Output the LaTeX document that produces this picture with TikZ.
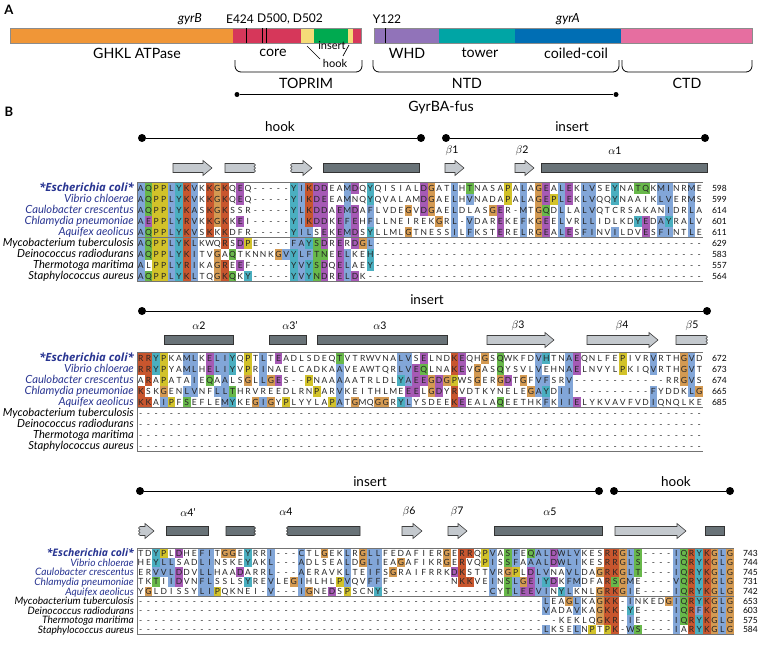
\documentclass[tikz,border=0pt]{standalone}
\usepackage{fontspec}
\setmainfont{Lato}
\newfontfamily\ecfont{Open Sans}
\definecolor{rcb}{RGB}{130,166,216}
\definecolor{rcc}{RGB}{74,175,192}
\definecolor{rcg}{RGB}{104,184,74}
\definecolor{rcy}{RGB}{210,194,42}
\definecolor{rcr}{RGB}{200,86,46}
\definecolor{rcm}{RGB}{166,90,181}
\definecolor{rco}{RGB}{212,154,82}
\definecolor{spblue}{RGB}{40,52,145}
\definecolor{sheetgray}{RGB}{196,201,206}
\definecolor{helixgray}{RGB}{105,115,120}
\definecolor{dorange}{RGB}{240,150,55}
\definecolor{dred}{RGB}{214,55,90}
\definecolor{dyellow}{RGB}{245,220,120}
\definecolor{dgreen}{RGB}{0,170,80}
\definecolor{dpurple}{RGB}{145,115,185}
\definecolor{dteal}{RGB}{0,165,165}
\definecolor{dblue}{RGB}{0,110,180}
\definecolor{dpink}{RGB}{230,110,160}
\newcount\colno
\def\cw{7.65}
\def\xo{137}
\def\rh{11}
\def\rowy{0}
\def\spsize{11.2}
\def\ecsize{11.3}
\def\gobbleone#1{}
\def\cell#1#2{%
  \global\advance\colno by 1
  \def\tmpc{#2}%
  \ifx\tmpc\empty\else
    \fill[fill=#2] ({\xo+(\the\colno-1)*\cw},{\rowy-\rh/2}) rectangle ++(\cw,\rh);
  \fi
  \node[res] at ({\xo+(\the\colno-0.5)*\cw},{\rowy+3.05}) {#1};}
\def\seqparse#1{\ifx#1\relax\else\csname h@#1\endcsname\expandafter\seqparse\fi}
\def\seqs#1{\seqparse#1\relax}
\def\padto#1{\ifnum\colno<#1\relax\cell{-}{}\expandafter\padto\else\expandafter\gobbleone\fi{#1}}
\def\startrow#1{\global\colno=0 \def\rowy{#1}}
\def\defres#1#2{\expandafter\def\csname h@#1\endcsname{\cell{#1}{#2}}}
\def\defplain#1#2{\expandafter\def\csname h@#1\endcsname{\cell{#2}{}}}
\defres A{rcb}\defres C{rcb}\defres D{rcm}\defres E{rcm}\defres F{rcb}
\defres G{rco}\defres H{rcc}\defres I{rcb}\defres K{rcr}\defres L{rcb}
\defres M{rcb}\defres N{rcg}\defres P{rcy}\defres Q{rcg}\defres R{rcr}
\defres S{rcg}\defres T{rcg}\defres V{rcb}\defres W{rcb}\defres Y{rcc}
\defplain aA\defplain cC\defplain dD\defplain eE\defplain fF
\defplain gG\defplain hH\defplain iI\defplain kK\defplain lL
\defplain mM\defplain nN\defplain pP\defplain qQ\defplain rR
\defplain sS\defplain tT\defplain vV\defplain wW\defplain yY
\defplain --
\newcommand\sheet[3]{\draw[sheetst] (#1,#3-4.5) -- (#2-9,#3-4.5) -- (#2-9,#3-7.5) -- (#2,#3) -- (#2-9,#3+7.5) -- (#2-9,#3+4.5) -- (#1,#3+4.5) -- cycle;}
\newcommand\sheetjl[3]{\draw[sheetst] (#1,#3-4.5) -- (#2-9,#3-4.5) -- (#2-9,#3-7.5) -- (#2,#3) -- (#2-9,#3+7.5) -- (#2-9,#3+4.5) -- (#1,#3+4.5) -- (#1-1.5,#3+3) -- (#1,#3+1.5) -- (#1-1.5,#3) -- (#1,#3-1.5) -- (#1-1.5,#3-3) -- cycle;}
\newcommand\sheetjr[3]{\draw[sheetst] (#1,#3-4.5) -- (#2,#3-4.5) -- (#2+1.5,#3-3) -- (#2,#3-1.5) -- (#2+1.5,#3) -- (#2,#3+1.5) -- (#2+1.5,#3+3) -- (#2,#3+4.5) -- (#1,#3+4.5) -- cycle;}
\newcommand\helix[3]{\draw[helixst] (#1,#3-4.5) rectangle (#2,#3+4.5);}
\newcommand\helixjr[3]{\draw[helixst] (#1,#3-4.5) -- (#2,#3-4.5) -- (#2+1.5,#3-3) -- (#2,#3-1.5) -- (#2+1.5,#3) -- (#2,#3+1.5) -- (#2+1.5,#3+3) -- (#2,#3+4.5) -- (#1,#3+4.5) -- cycle;}
\newcommand\helixjl[3]{\draw[helixst] (#1,#3-4.5) -- (#2,#3-4.5) -- (#2,#3+4.5) -- (#1,#3+4.5) -- (#1-1.5,#3+3) -- (#1,#3+1.5) -- (#1-1.5,#3) -- (#1,#3-1.5) -- (#1-1.5,#3-3) -- cycle;}
\newcommand\speciesblock[3]{%
  \node[spe] (#1s1) at (134,{#2+3.8}) {*Escherichia coli*};
  \node[spb] (#1s2) at (134,{#2+#3+3.7}) {Vibrio chloerae};
  \node[spb] (#1s3) at (134,{#2+2*#3+3.7}) {Caulobacter crescentus};
  \node[spb] (#1s4) at (134,{#2+3*#3+3.7}) {Chlamydia pneumoniae};
  \node[spb] (#1s5) at (134,{#2+4*#3+3.7}) {Aquifex aeolicus};
  \node[sp] (#1s6) at (134,{#2+5*#3+3.7}) {Mycobacterium tuberculosis};
  \node[sp] (#1s7) at (134,{#2+6*#3+3.7}) {Deinococcus radiodurans};
  \node[sp] (#1s8) at (134,{#2+7*#3+3.7}) {Thermotoga maritima};
  \node[sp] (#1s9) at (134,{#2+8*#3+3.7}) {Staphylococcus aureus};}
\begin{document}
\begin{tikzpicture}[x=1pt,y=-1pt,
 res/.style={font=\fontsize{8.5}{9}\selectfont, inner sep=0pt, anchor=base, text=black!85},
 sp/.style={anchor=base east, inner sep=0pt, font=\fontsize{\spsize}{12}\selectfont\itshape},
 spb/.style={sp, text=spblue},
 spe/.style={anchor=base east, inner sep=0pt, text=spblue, font=\ecfont\fontsize{\ecsize}{12}\selectfont\bfseries\itshape},
 numst/.style={anchor=base east, inner sep=0pt, font=\fontsize{8.5}{10}\selectfont},
 lab/.style={inner sep=0pt, font=\fontsize{13.5}{15}\selectfont},
 laba/.style={inner sep=0pt, font=\fontsize{14.2}{16}\selectfont},
 lbl/.style={inner sep=0pt, font=\fontsize{12}{13}\selectfont},
 lbs/.style={inner sep=0pt, font=\fontsize{11}{12}\selectfont},
 ssl/.style={inner sep=0pt, font=\fontsize{10.5}{11}\selectfont},
 panel/.style={inner sep=0pt, font=\fontsize{13}{15}\selectfont\bfseries},
 sheetst/.style={draw=black!75, fill=sheetgray, line width=0.6pt},
 helixst/.style={draw=black!80, fill=helixgray, line width=0.6pt},
 boxline/.style={draw=black!55, line width=0.9pt},
 domline/.style={line width=0.9pt},
 dot/.style={circle, fill, inner sep=0pt, minimum size=8pt},
 sdot/.style={circle, fill, inner sep=0pt, minimum size=5pt},
 seg/.style={draw=black!45, line width=0.4pt},
 brace/.style={line width=0.8pt, rounded corners=6pt},
]
\useasboundingbox (0,0) rectangle (763,645);
% ---------------- Panel A ----------------
\node[panel] (pA) at (9,10) {A};
\node[panel] (pB) at (9,112) {B};
\fill[dorange] (10,28) rectangle (233,43);
\fill[dred] (233,28) rectangle (301,43);
\fill[dyellow] (301,28) rectangle (314,43);
\fill[dgreen] (314,28) rectangle (348,43);
\fill[dyellow] (348,28) rectangle (353,43);
\fill[dred] (353,28) rectangle (361,43);
\draw[seg] (10,28) rectangle (361,43);
\fill[dpurple] (374,28) rectangle (439,43);
\fill[dteal] (439,28) rectangle (515,43);
\fill[dblue] (515,28) rectangle (621,43);
\fill[dpink] (621,28) rectangle (752,43);
\draw[seg] (374,28) rectangle (752,43);
\draw[line width=0.8pt] (246,28) -- (246,43);
\draw[line width=0.8pt] (262,28) -- (262,43);
\draw[line width=0.8pt] (266,28) -- (266,43);
\draw[line width=0.8pt] (385,28) -- (385,43);
\node[lbl, font=\fontsize{12.5}{13}\selectfont\itshape] (gyrb) at (190,19) {gyrB};
\node[lbl] (e424) at (240,19) {E424};
\node[lbl] (d500) at (290,19) {D500, D502};
\node[lbl] (y122) at (387,19) {Y122};
\node[lbl, font=\fontsize{12.5}{13}\selectfont\itshape] (gyra) at (568,19) {gyrA};
\node[laba] (ghkl) at (137,53) {GHKL ATPase};
\node[laba] (core) at (273,53) {core};
\node[lbs] (ins0) at (332,46) {insert};
\node[lbs] (hook0) at (335,63) {hook};
\draw[line width=0.7pt] (307,46) -- (320,59);
\draw[line width=0.7pt] (349,45) -- (343,56);
\node[laba] (whd) at (407,53) {WHD};
\node[laba] (tower) at (480,53) {tower};
\node[laba] (ccoil) at (576,53) {coiled-coil};
\draw[brace] (235,60) -- (235,72) -- (362,72) -- (362,60);
\draw[brace] (373,60) -- (373,72) -- (619,72) -- (619,60);
\draw[brace] (622,60) -- (622,72) -- (752,72) -- (752,60);
\node[laba] (toprim) at (306,83) {TOPRIM};
\node[laba] (ntd) at (467,83) {NTD};
\node[laba] (ctd) at (687,83) {CTD};
\node[sdot] (fa) at (237,94.5) {};
\node[sdot] (fb) at (616,94.5) {};
\draw[domline] (fa) -- (fb);
\node[laba] (fus) at (441,108) {GyrBA-fus};
% ---------------- Block 1 ----------------
\node[dot] (h1a) at (142,138) {};
\node[dot] (h1b) at (421,138) {};
\draw[domline] (h1a) -- (h1b);
\node[dot] (i1a) at (446,138) {};
\node[dot] (i1b) at (705,138) {};
\draw[domline] (i1a) -- (i1b);
\node[lab] (l1hook) at (280,127) {hook};
\node[lab] (l1ins) at (572,127) {insert};
\sheet{173}{212}{168}
\sheetjr{225}{254}{168}
\sheetjl{292}{312}{168}
\helix{323}{419}{168}
\sheet{445}{464}{168}
\sheet{515}{534}{168}
\helix{541}{707}{168}
\node[ssl] (b1) at (452,151) {$\beta$1};
\node[ssl] (b2) at (522,151) {$\beta$2};
\node[ssl] (a1) at (615,151) {$\alpha$1};
\startrow{188}\seqs{AQPPLYKVkKGKqEq-----YIKDDeaMDqYqisialDGatLhTnasaPaLaGEaLEkLVseYnaTQkMInrMe}
\startrow{199}\seqs{AQPPLYKVkKGKqEq-----YIKDEeaMnqYqvalamDGaeLhVnadaPaLaGEPLEkLVqqYnaaikLVerMs}
\startrow{210}\seqs{AQPPLYKAsKGKssr-----YLKDDaEMDaFlvdeGvDGaeLdlasGEr-MtGQdLlaLVqtcrsakanIdrLa}
\startrow{221}\seqs{AEPPLYRVkKGKkEi-----YIKDDkEFEhFllneirekGrL-VdarEkeFkGEeLvrLLidlkdYEdAYraLv}
\startrow{232}\seqs{AQPPLYKVsKkKdfr-----YILsEkEMDsYllmlGtnessIlFkstEreLrGEaLEsFInvIldvEsFIntLe}
\startrow{243}\seqs{AQPPLYKLkwqRsDPe----FAYSDrErDGL}\padto{74}
\startrow{254}\seqs{AQPPLYKItvGaQtknnkGVYLFTNeELkeH}\padto{74}
\startrow{265}\seqs{AlPPLYRIkaGReEf-----YVYSDqELaeY}\padto{74}
\startrow{276}\seqs{AQPPLYKLtqGKQkY-----YVYNDrELDk}\padto{74}
\draw[boxline] (137,182.5) -- (703,182.5);
\draw[boxline] (137,237.5) -- (703,237.5);
\draw[boxline] (137,281.5) -- (703,281.5);
\draw[boxline] (137,182.5) -- (137,281.5);
\speciesblock{a}{188}{11}
\node[numst] (n11) at (727,191) {598};
\node[numst] (n12) at (727,202) {599};
\node[numst] (n13) at (727,213) {614};
\node[numst] (n14) at (727,224) {601};
\node[numst] (n15) at (727,235) {611};
\node[numst] (n16) at (727,246) {629};
\node[numst] (n17) at (727,257) {583};
\node[numst] (n18) at (727,268) {557};
\node[numst] (n19) at (727,279) {564};
% ---------------- Block 2 ----------------
\node[dot] (i2a) at (142,311) {};
\node[dot] (i2b) at (707,311) {};
\draw[domline] (i2a) -- (i2b);
\node[lab] (l2ins) at (427,300) {insert};
\helix{164}{233}{340}
\helix{269}{306}{340}
\helix{317}{447}{340}
\sheet{487}{554}{340}
\sheet{587}{658}{340}
\sheetjr{676}{706}{340}
\node[ssl] (a2) at (199,326) {$\alpha$2};
\node[ssl] (a3p) at (290,326) {$\alpha$3'};
\node[ssl] (a3) at (380,326) {$\alpha$3};
\node[ssl] (b3) at (518,326) {$\beta$3};
\node[ssl] (b4) at (622,326) {$\beta$4};
\node[ssl] (b5) at (692,326) {$\beta$5};
\startrow{358}\seqs{RRYPkaMLkELIYqPtLtEadlsdeqTvtr wvnaLVsEln dKEqhGsQwk fdVHtnAEqn lfePivrVrt hGVd}
\startrow{369}\seqs{RRYPyaMLhELIYvPrInaelcadkaAvea wtqrLVEQln aKEvGasQys vlVehnAEln vylPkiqVrt hGVt}
\startrow{380}\seqs{aRaPataIeQ aAlsGlLGEs --PnaaAaat rldlYAEEGD GPwsGerGDt GfVFsrV--- ---------r rGVs}
\startrow{391}\seqs{KskGenLVnf LLThrvreed lrnParVkei thlmeEElGD yRvdtkynel eGAYdII--- -------Fyd dkLG}
\startrow{402}\seqs{KKaIPfSefl eMYkeGIGyP lyylaPAtGm qGGrYLysde eKEealaQee thkFkIIEly kvavfvdIqn qlke}
\startrow{413}\padto{74}
\startrow{424}\padto{74}
\startrow{435}\padto{74}
\startrow{446}\padto{74}
\draw[boxline] (137,352.5) -- (703,352.5);
\draw[boxline] (137,407.5) -- (703,407.5);
\draw[boxline] (137,451.5) -- (703,451.5);
\draw[boxline] (137,352.5) -- (137,451.5);
\speciesblock{b}{358}{11}
\node[numst] (n21) at (727,361) {672};
\node[numst] (n22) at (727,372) {673};
\node[numst] (n23) at (727,383) {674};
\node[numst] (n24) at (727,394) {665};
\node[numst] (n25) at (727,405) {685};
% ---------------- Block 3 ----------------
\node[dot] (i3a) at (140,491) {};
\node[dot] (i3b) at (599,491) {};
\draw[domline] (i3a) -- (i3b);
\node[dot] (h3a) at (614,491) {};
\node[dot] (h3b) at (730,491) {};
\draw[domline] (h3a) -- (h3b);
\node[lab] (l3ins) at (370,482) {insert};
\node[lab] (l3hook) at (676,482) {hook};
\sheetjl{140}{154}{531}
\helix{166}{208}{531}
\helixjr{226}{254}{531}
\helixjl{288}{360}{531}
\sheet{402}{422}{531}
\sheet{448}{467}{531}
\helix{494}{602}{531}
\sheet{615}{686}{531}
\helix{705}{724}{531}
\node[ssl] (a4p) at (188,512) {$\alpha$4'};
\node[ssl] (a4) at (286,512) {$\alpha$4};
\node[ssl] (b6) at (409,512) {$\beta$6};
\node[ssl] (b7) at (457,512) {$\beta$7};
\node[ssl] (a5) at (550,512) {$\alpha$5};
\def\rh{9.6}
\startrow{553}\seqs{tdYPlDheFI tGGeYrrI-- -CtlGekLrG LLfedafier GeRRqPVaSF eQALDWLVke sRRGLS---- IQRYKGLG}
\startrow{562.6}\seqs{heYLLsadLI nskeYakL-- -AdlseaLdG LIeaGafikr GeRvqPIsSF aAALDWLIke sRRGLS---- IQRYKGLG}
\startrow{572.2}\seqs{erVVLDdvLL haaDarrL-- -AeravkLte IFsGraifrr kDKsttVrGP lDLVnaVLda GRKGLT---- IQRYKGLG}
\startrow{581.8}\seqs{tkTiIDvnFL sslsYreVle GIhlhlPVqv FFf------- -nKKveInSL GEIYDkFMdf aRSGMe---- VQRYKGLG}
\startrow{591.4}\seqs{yGldissyLI Pqknei-V-- -IGneDsPsc nYs------- ------CyTL EEVInYLknl GRKGIe---- IQRYKGLG}
\startrow{601}\padto{53}\seqs{LeaGLkaGKK -InkedG IQRYKGLG}
\startrow{610.6}\padto{53}\seqs{VadaVkaGKK -Ye---- IQRFKGLG}
\startrow{620.2}\padto{55}\seqs{keklqGKR -Ie---- IQRYKGLG}
\startrow{629.8}\padto{53}\seqs{LkseLnPtPK -WS---- IaRYKGLG}
\draw[boxline] (137,548.2) -- (734,548.2);
\draw[boxline] (137,596.2) -- (734,596.2);
\draw[boxline] (137,634.6) -- (734,634.6);
\draw[boxline] (137,548.2) -- (137,634.6);
\def\spsize{10.2}
\def\ecsize{10.4}
\speciesblock{c}{553}{9.6}
\node[numst] (n31) at (758,556) {743};
\node[numst] (n32) at (758,565.6) {744};
\node[numst] (n33) at (758,575.2) {745};
\node[numst] (n34) at (758,584.8) {731};
\node[numst] (n35) at (758,594.4) {742};
\node[numst] (n36) at (758,604) {653};
\node[numst] (n37) at (758,613.6) {603};
\node[numst] (n38) at (758,623.2) {575};
\node[numst] (n39) at (758,632.8) {584};
\end{tikzpicture}
\end{document}
